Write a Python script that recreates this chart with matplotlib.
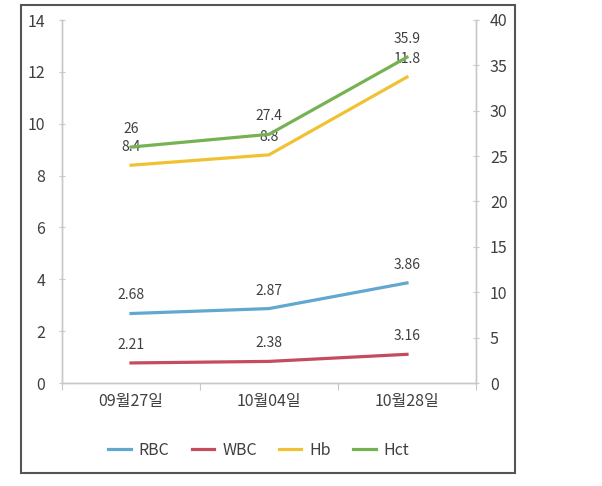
import matplotlib
matplotlib.use("Agg")
import matplotlib.pyplot as plt
from matplotlib.patches import Rectangle

plt.rcParams['font.family'] = ['Noto Sans CJK KR', 'DejaVu Sans']

categories = ['09월27일', '10월04일', '10월28일']
rbc = [2.68, 2.87, 3.86]   # left axis
wbc = [2.21, 2.38, 3.16]   # right axis
hb = [8.4, 8.8, 11.8]      # left axis
hct = [26, 27.4, 35.9]     # right axis
left_ticks = [0, 2, 4, 6, 8, 10, 12, 14]
right_ticks = [0, 5, 10, 15, 20, 25, 30, 35, 40]

c_rbc = '#62a7cf'
c_wbc = '#c44c5c'
c_hb = '#f0c233'
c_hct = '#76b252'
txt = '#404040'
spine_c = '#c8c8c8'

fig = plt.figure(figsize=(6.02, 4.86), dpi=100)
ax = fig.add_axes([62/602, 1 - 383/486, (476-62)/602, (383-20)/486])
ax2 = ax.twinx()

x = list(range(len(categories)))
l1, = ax.plot(x, rbc, color=c_rbc, lw=2.3, label='RBC')
l3, = ax.plot(x, hb, color=c_hb, lw=2.3, label='Hb')
l2, = ax2.plot(x, wbc, color=c_wbc, lw=2.3, label='WBC')
l4, = ax2.plot(x, hct, color=c_hct, lw=2.3, label='Hct')

for a, vals in ((ax, rbc), (ax, hb), (ax2, wbc), (ax2, hct)):
    for xi, v in zip(x, vals):
        a.annotate(f'{v:g}', (xi, v), xytext=(0, 13), textcoords='offset points',
                   ha='center', va='center', fontsize=10, color=txt)

ax.set_xlim(-0.5, 2.5)
ax.set_ylim(0, 14)
ax2.set_ylim(0, 40)
ax.set_yticks(left_ticks)
ax2.set_yticks(right_ticks)

ax.set_xticks([-0.5, 0.5, 1.5, 2.5])
ax.set_xticklabels([])
ax.set_xticks(x, minor=True)
ax.set_xticklabels(categories, minor=True)
ax.tick_params(axis='x', which='minor', length=0, labelsize=11.5, labelcolor=txt, pad=7)
ax.tick_params(axis='x', which='major', length=5, color=spine_c, direction='out')
ax.tick_params(axis='y', labelsize=11.5, labelcolor=txt, length=4, color=spine_c, direction='inout', pad=10)
ax2.tick_params(axis='y', labelsize=11.5, labelcolor=txt, length=4, color=spine_c, direction='inout', pad=8)

for a in (ax, ax2):
    a.spines['top'].set_visible(False)
    for s in ('left', 'right', 'bottom'):
        a.spines[s].set_color(spine_c)
        a.spines[s].set_linewidth(1.0)

fig.legend([l1, l2, l3, l4], ['RBC', 'WBC', 'Hb', 'Hct'], loc='center',
           bbox_to_anchor=(0.43, 1 - 450/486), ncol=4, frameon=False,
           fontsize=11.5, handlelength=1.4, columnspacing=1.4, labelcolor=txt,
           handletextpad=0.5)

fig.patches.append(Rectangle((21/602, 1 - 473/486), 494/602, 468/486,
                             transform=fig.transFigure, fill=False,
                             edgecolor='#555555', lw=1.5))

fig.savefig('out.png', dpi=100)
